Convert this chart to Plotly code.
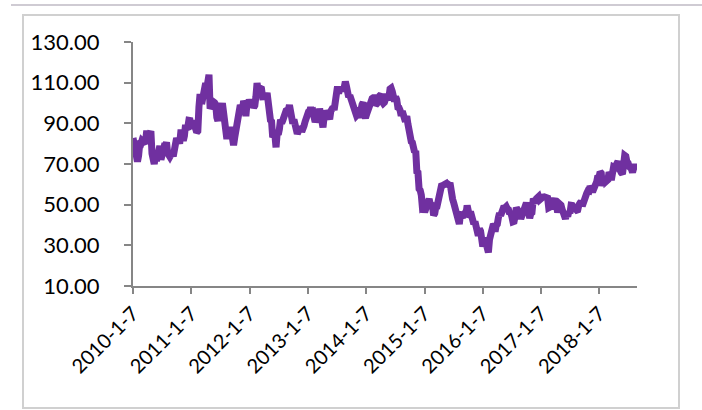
import pandas as pd
import plotly.graph_objects as go

start_date = "2010-01-07"

# weekly WTI price readings (USD/bbl)
prices_2010 = [82.8, 79.4, 74.5, 72.9, 71.2, 74.1, 79.8, 79.7, 81.5, 81.2, 80.7, 80.0,
               84.9, 84.9, 83.2, 85.0, 86.2, 75.1, 71.6, 70.0, 74.0, 71.5, 73.8, 77.2, 78.9,
               72.1, 76.1, 76.0, 78.9, 78.9, 80.7, 75.4, 73.5, 73.6, 74.6, 76.5, 73.7, 76.5,
               81.6, 82.7, 81.3, 81.7, 81.4, 86.9, 84.9, 81.5, 83.8, 89.2, 87.8, 88.0, 91.5, 91.4]
prices_2011 = [88.0, 91.5, 89.1, 89.3, 87.5, 85.6, 86.2, 97.9, 104.4, 101.2, 101.1, 105.4,
               108.0, 109.7, 107.1, 112.3, 113.9, 97.2, 99.6, 99.5, 100.6, 100.2, 99.3, 93.0, 91.2, 95.4,
               96.2, 97.2, 99.9, 95.7, 86.9, 85.4, 82.3, 85.4, 86.5, 87.9, 86.3, 80.2, 79.2,
               82.9, 86.8, 87.4, 93.3, 94.3, 99.0, 97.7, 96.8, 101.0, 99.4, 93.5, 99.7, 98.8]
prices_2012 = [101.6, 98.7, 98.5, 99.6, 97.8, 98.7, 103.2, 109.8, 106.7, 107.4, 107.1, 106.9, 103.0,
               103.3, 102.8, 103.1, 104.9, 98.5, 96.1, 91.5, 90.9, 83.2, 84.1, 84.0, 78.2, 85.0,
               84.5, 87.1, 91.8, 90.1, 91.4, 92.9, 96.0, 96.2, 96.5, 96.4, 99.0, 92.9, 91.9,
               89.9, 91.9, 90.1, 86.3, 84.9, 86.1, 86.9, 88.3, 85.9, 86.7, 88.7, 90.8]
prices_2013 = [93.1, 93.6, 95.6, 95.9, 97.8, 95.7, 95.9, 93.1, 90.7, 91.9, 93.0, 93.7, 97.2,
               93.3, 91.3, 88.0, 93.0, 96.0, 96.0, 95.2, 94.2, 92.0, 96.0, 97.9, 97.9, 96.6,
               103.2, 106.0, 108.1, 104.7, 106.9, 106.0, 107.5, 106.4, 107.7, 110.5, 108.2, 104.7, 102.9,
               103.8, 102.0, 100.8, 97.9, 94.6, 94.6, 93.8, 94.4, 92.7, 97.7, 96.6, 99.3, 100.3]
prices_2014 = [94.0, 92.7, 94.4, 96.6, 97.5, 99.9, 100.3, 102.2, 102.6, 102.6, 98.9, 99.5, 101.7,
               101.1, 103.7, 104.3, 100.6, 99.8, 100.3, 102.0, 104.4, 102.7, 102.7, 106.9, 107.3, 105.7,
               104.1, 100.8, 103.1, 101.7, 97.9, 97.7, 96.4, 93.7, 96.0, 93.3, 92.3, 92.4, 93.5,
               89.7, 85.8, 82.8, 81.0, 80.5, 78.7, 75.8, 76.5, 66.2, 65.8, 57.8, 57.1, 54.7]
prices_2015 = [48.4, 48.7, 46.3, 48.2, 48.2, 51.7, 52.8, 50.3, 49.8, 49.6, 44.8, 45.7, 48.9,
               49.1, 51.6, 55.7, 57.2, 59.2, 59.4, 59.7, 59.7, 60.3, 59.1, 60.0, 59.6, 59.5,
               52.7, 52.7, 50.9, 48.1, 47.1, 43.9, 42.5, 40.5, 45.2, 46.1, 44.6, 44.7, 45.7,
               45.5, 49.6, 47.3, 44.6, 46.6, 44.3, 40.7, 40.4, 41.7, 40.0, 35.6, 34.7, 38.1, 37.0]
prices_2016 = [33.2, 29.4, 32.2, 33.6, 30.9, 29.4, 26.5, 32.8, 35.9, 38.5, 39.4, 39.5,
               36.8, 39.7, 40.4, 43.7, 45.9, 44.7, 46.2, 48.4, 49.3, 48.6, 49.1, 48.0, 47.6,
               45.4, 46.0, 44.2, 41.6, 41.8, 44.5, 48.5, 47.6, 44.4, 45.9, 43.0, 44.5, 48.2,
               49.8, 50.4, 50.9, 48.7, 44.1, 43.4, 45.7, 46.1, 51.7, 51.5, 51.9, 53.0, 53.7]
prices_2017 = [54.0, 52.4, 53.2, 53.2, 53.8, 53.9, 53.4, 54.0, 53.3, 48.5, 48.8, 48.0, 50.6,
               52.2, 53.2, 49.6, 49.3, 46.2, 47.8, 50.3, 49.8, 47.7, 45.8, 44.7, 43.0, 46.0,
               44.2, 46.5, 45.8, 49.7, 49.6, 48.5, 48.5, 47.9, 47.3, 47.5, 49.9, 50.7, 51.7,
               49.3, 51.5, 51.5, 53.9, 55.6, 56.7, 56.6, 59.0, 57.4, 57.3, 57.3, 58.5, 60.4]
prices_2018 = [61.4, 64.3, 63.4, 66.1, 65.5, 59.2, 61.7, 63.6, 61.3, 62.0, 62.3, 65.9, 64.9,
               62.1, 67.4, 68.4, 68.1, 69.7, 70.7, 71.3, 67.9, 65.8, 65.7, 65.1, 68.6, 74.2,
               73.8, 71.0, 70.5, 68.7, 68.5, 67.6, 65.9, 68.7, 69.8, 67.8, 69.0]

prices = (prices_2010 + prices_2011 + prices_2012 + prices_2013 + prices_2014
          + prices_2015 + prices_2016 + prices_2017 + prices_2018)
dates = pd.date_range(start_date, periods=len(prices), freq="7D")

tick_dates = ["2010-01-07", "2011-01-07", "2012-01-07", "2013-01-07", "2014-01-07",
              "2015-01-07", "2016-01-07", "2017-01-07", "2018-01-07"]
tick_labels = ["2010-1-7", "2011-1-7", "2012-1-7", "2013-1-7", "2014-1-7",
               "2015-1-7", "2016-1-7", "2017-1-7", "2018-1-7"]
y_ticks = [10, 30, 50, 70, 90, 110, 130]
y_labels = ["10.00", "30.00", "50.00", "70.00", "90.00", "110.00", "130.00"]

fig = go.Figure(go.Scatter(x=dates, y=prices, mode="lines",
                           line=dict(color="#7030A0", width=7), hoverinfo="skip"))

W, H = 702, 410
L, R, T, B = 133, 637, 42, 286
def px(x):
    return (x - L) / (R - L)
def py(y):
    return (B - y) / (B - T)

fig.update_layout(
    width=W, height=H,
    margin=dict(l=L, r=W - R, t=T, b=H - B, pad=0, autoexpand=False),
    paper_bgcolor="white", plot_bgcolor="white",
    showlegend=False,
    font=dict(family="Lato, Carlito, 'Liberation Sans', sans-serif", size=22, color="#000000"),
    xaxis=dict(
        type="date", range=[start_date, dates[-1]],
        tickmode="array", tickvals=tick_dates, ticktext=tick_labels,
        tickangle=-45, ticks="outside", ticklen=6, tickcolor="#868686", tickwidth=2,
        showline=True, linecolor="#868686", linewidth=2,
        showgrid=False, zeroline=False,
        tickfont=dict(size=20),
    ),
    yaxis=dict(
        range=[10, 130], tickmode="array", tickvals=y_ticks, ticktext=y_labels,
        ticks="outside", ticklen=7, tickcolor="#868686", tickwidth=2,
        showline=True, linecolor="#868686", linewidth=2,
        showgrid=False, zeroline=False, ticklabelstandoff=20,
        tickfont=dict(size=22),
    ),
    shapes=[
        dict(type="rect", xref="paper", yref="paper",
             x0=px(23), x1=px(679), y0=py(408), y1=py(15),
             line=dict(color="#D0D0D0", width=2), layer="below"),
        dict(type="line", xref="paper", yref="paper",
             x0=px(11), x1=px(702), y0=py(5), y1=py(5),
             line=dict(color="#CFCBD3", width=2)),
    ],
)

fig.write_html("out.html", config={"displayModeBar": False, "staticPlot": True},
               post_script="document.body.style.margin='0';")
